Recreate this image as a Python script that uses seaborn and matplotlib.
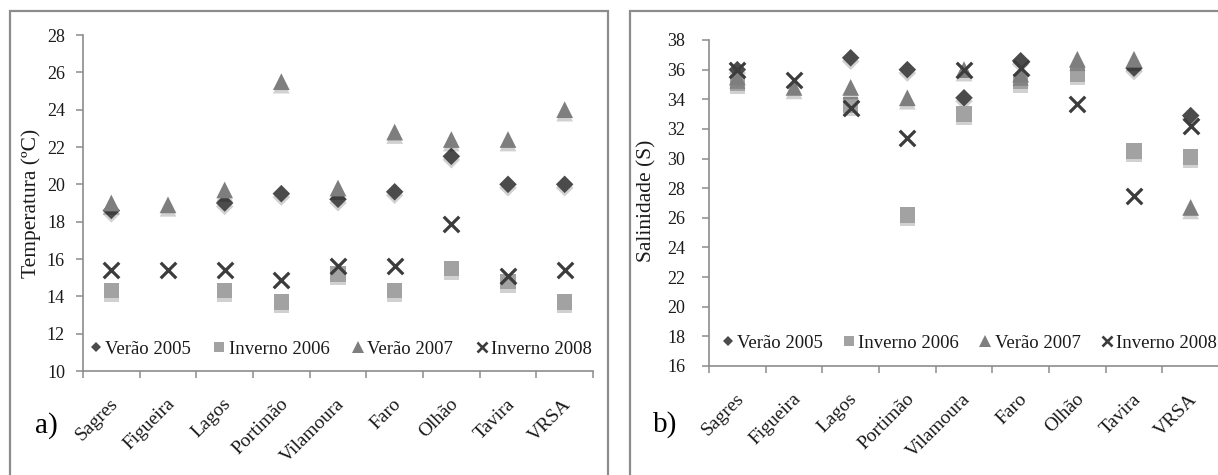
import numpy as np
import pandas as pd
import matplotlib
matplotlib.use("Agg")
import matplotlib.pyplot as plt
import seaborn as sns
from matplotlib.lines import Line2D
from matplotlib.patches import Rectangle
from matplotlib.ticker import FixedLocator, FixedFormatter
import matplotlib.transforms as mtransforms
import matplotlib.patheffects as pe

# ---------------- data ----------------
sites = ["Sagres", "Figueira", "Lagos", "Portimão", "Vilamoura", "Faro", "Olhão", "Tavira", "VRSA"]
series_names = ["Verão 2005", "Inverno 2006", "Verão 2007", "Inverno 2008"]

nan = np.nan
temp_verao_2005 = [18.6, nan, 19.0, 19.5, 19.2, 19.6, 21.5, 20.0, 20.0]
temp_inverno_2006 = [14.3, nan, 14.3, 13.7, 15.2, 14.3, 15.5, 14.8, 13.7]
temp_verao_2007 = [19.0, 18.9, 19.7, 25.5, 19.8, 22.8, 22.4, 22.4, 24.0]
temp_inverno_2008 = [15.4, 15.4, 15.4, 14.9, 15.6, 15.6, 17.9, 15.1, 15.4]

sal_verao_2005 = [36.0, nan, 36.8, 36.0, 34.1, 36.6, nan, 36.1, 32.9]
sal_inverno_2006 = [35.1, nan, 33.6, 26.2, 33.0, 35.2, 35.7, 30.5, 30.1]
sal_verao_2007 = [35.5, 34.8, 34.8, 34.1, 36.0, 35.7, 36.7, 36.7, 26.7]
sal_inverno_2008 = [36.0, 35.3, 33.4, 31.4, 36.0, 36.1, 33.7, 27.5, 32.2]

temp_ticks = list(range(10, 29, 2))
sal_ticks = list(range(16, 39, 2))

# ---------------- style ----------------
sns.set_theme(style="white")
plt.rcParams["font.family"] = ["Liberation Serif", "DejaVu Serif"]

W, H = 1218, 475
spine_c = "#8c8c8c"
text_c = "#1a1a1a"

styles = {
    "Verão 2005": dict(marker="D", s=80, color="#4b4b4b", lms=5.5),
    "Inverno 2006": dict(marker="s", s=125, color="#a2a2a2", lms=7.5),
    "Verão 2007": dict(marker="^", s=145, color="#7e7e7e", lms=8.0),
    "Inverno 2008": dict(marker="x", s=125, color="#3c3c3c", lms=7.0),
}

shadow = [pe.SimplePatchShadow(offset=(0, -2.5), shadow_rgbFace="#000000", alpha=0.18), pe.Normal()]

fig = plt.figure(figsize=(W / 100, H / 100), dpi=100)


def px_rect(x0, y0, x1, y1):
    return [x0 / W, 1 - y1 / H, (x1 - x0) / W, (y1 - y0) / H]


ax1 = fig.add_axes(px_rect(83, 35, 593, 371))
ax2 = fig.add_axes(px_rect(709, 40, 1219, 366))

# panel frames
fig.patches.append(Rectangle((10 / W, -0.1), (608 - 10) / W, 1.1 - 11 / H, transform=fig.transFigure,
                             fill=False, edgecolor=spine_c, lw=1.6))
fig.patches.append(Rectangle((630 / W, -0.1), (1260 - 630) / W, 1.1 - 11 / H, transform=fig.transFigure,
                             fill=False, edgecolor=spine_c, lw=1.6))

xpos = np.arange(len(sites))


def draw(ax, values):
    for name, vals in zip(series_names, values):
        st = styles[name]
        df = pd.DataFrame({"x": xpos, "y": vals}).dropna()
        kw = dict(marker=st["marker"], s=st["s"], color=st["color"], ax=ax, legend=False, zorder=3)
        if st["marker"] == "x":
            kw.update(linewidth=2.3)
        else:
            kw.update(linewidth=0, path_effects=shadow)
        sns.scatterplot(data=df, x="x", y="y", **kw)


def style_axes(ax, ylim, yticks, ypad):
    ax.set_xlim(-0.5, len(sites) - 0.5)
    ax.set_ylim(*ylim)
    ax.set_yticks(yticks)
    ax.set_yticklabels([str(t) for t in yticks])
    ax.set_xlabel("")
    ax.set_ylabel("")
    ax.set_xticks(np.arange(-0.5, len(sites), 1))
    ax.set_xticklabels([])
    ax.xaxis.set_minor_locator(FixedLocator(xpos))
    ax.xaxis.set_minor_formatter(FixedFormatter(sites))
    for s in ["top", "right"]:
        ax.spines[s].set_visible(False)
    for s in ["left", "bottom"]:
        ax.spines[s].set_color(spine_c)
        ax.spines[s].set_linewidth(1.2)
    ax.tick_params(axis="x", which="major", length=5, width=1.1, color=spine_c, direction="out", bottom=True)
    ax.tick_params(axis="x", which="minor", length=0, pad=22, labelsize=14, labelcolor=text_c, bottom=True)
    ax.tick_params(axis="y", which="major", length=5, width=1.1, color=spine_c, direction="out", left=True,
                   labelsize=13, labelcolor=text_c, pad=ypad)
    offset = mtransforms.ScaledTranslation(4 / 100, 0, fig.dpi_scale_trans)
    for lab in ax.xaxis.get_minorticklabels():
        lab.set_rotation(45)
        lab.set_ha("right")
        lab.set_va("center")
        lab.set_rotation_mode("anchor")
        lab.set_transform(lab.get_transform() + offset)
    ax.grid(False)


draw(ax1, [temp_verao_2005, temp_inverno_2006, temp_verao_2007, temp_inverno_2008])
draw(ax2, [sal_verao_2005, sal_inverno_2006, sal_verao_2007, sal_inverno_2008])
style_axes(ax1, (10, 28), temp_ticks, 8)
style_axes(ax2, (16, 38), sal_ticks, 12)

fig.text(31 / W, 1 - 203 / H, "Temperatura (ºC)", rotation=90, ha="center", va="center", fontsize=15.5, color=text_c)
fig.text(647 / W, 1 - 201 / H, "Salinidade (S)", rotation=90, ha="center", va="center", fontsize=15.5, color=text_c)

fig.text(35 / W, 1 - 426 / H, "a)", ha="left", va="center", fontsize=21, color="black")
fig.text(653 / W, 1 - 425 / H, "b)", ha="left", va="center", fontsize=21, color="black")


def legend_handles():
    hs = []
    for name in series_names:
        st = styles[name]
        if st["marker"] == "x":
            h = Line2D([], [], linestyle="none", marker="x", markersize=st["lms"], markeredgewidth=1.9,
                       color=st["color"], label=name)
        else:
            h = Line2D([], [], linestyle="none", marker=st["marker"], markersize=st["lms"], markeredgewidth=0,
                       color=st["color"], label=name)
        hs.append(h)
    return hs


for ax, x0, y0, cs in [(ax1, 88, 349, 1.12), (ax2, 720, 343, 1.0)]:
    ax.legend(handles=legend_handles(), loc="center left", bbox_to_anchor=(x0 / W, 1 - y0 / H),
              bbox_transform=fig.transFigure, ncol=4, frameon=False, fontsize=13.5, handlelength=0.8,
              handletextpad=0.1, columnspacing=cs, borderpad=0, borderaxespad=0, labelcolor=text_c)

fig.savefig("out.png", dpi=100, facecolor="white")
